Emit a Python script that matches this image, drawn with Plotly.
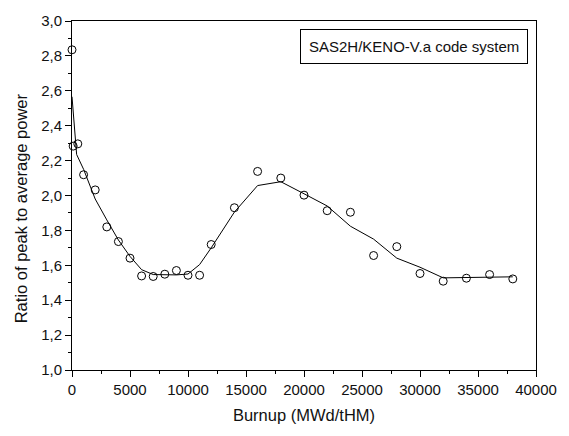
import plotly.graph_objects as go

burnup_pts = [0, 100, 500, 1000, 2000, 3000, 4000, 5000, 6000, 7000, 8000, 9000, 10000, 11000,
              12000, 14000, 16000, 18000, 20000, 22000, 24000, 26000, 28000, 30000, 32000,
              34000, 36000, 38000]
ratio_pts = [2.835, 2.283, 2.296, 2.119, 2.032, 1.82, 1.736, 1.641, 1.539, 1.536, 1.549, 1.570,
             1.543, 1.543, 1.719, 1.930, 2.138, 2.10, 2.002, 1.913, 1.904, 1.656, 1.707, 1.553,
             1.509, 1.526, 1.547, 1.522]

burnup_fit = [0, 400, 1000, 2000, 3000, 4000, 5000, 6000, 7000, 8000, 9000, 10000, 11000, 12000,
              14000, 16000, 18000, 20000, 22000, 24000, 26000, 28000, 30000, 32000, 34000,
              36000, 38000]
ratio_fit = [2.566, 2.235, 2.15, 1.98, 1.86, 1.745, 1.651, 1.575, 1.547, 1.545, 1.545, 1.55,
             1.604, 1.70, 1.905, 2.057, 2.079, 2.01, 1.94, 1.824, 1.75, 1.641, 1.589, 1.528,
             1.529, 1.530, 1.534]

x_ticks = [0, 5000, 10000, 15000, 20000, 25000, 30000, 35000, 40000]
y_ticks = [1.0, 1.2, 1.4, 1.6, 1.8, 2.0, 2.2, 2.4, 2.6, 2.8, 3.0]
y_labels = ["1,0", "1,2", "1,4", "1,6", "1,8", "2,0", "2,2", "2,4", "2,6", "2,8", "3,0"]

font = "Liberation Sans, Arial, sans-serif"

fig = go.Figure()
fig.add_trace(go.Scatter(x=burnup_fit, y=ratio_fit, mode="lines",
                         line=dict(color="black", width=1), showlegend=False))
fig.add_trace(go.Scatter(x=burnup_pts, y=ratio_pts, mode="markers",
                         marker=dict(symbol="circle-open", size=8, color="black",
                                     line=dict(width=1, color="black")),
                         showlegend=False, cliponaxis=False))

fig.update_layout(
    width=569, height=436,
    margin=dict(l=72, r=33, t=16, b=66),
    paper_bgcolor="white", plot_bgcolor="white",
    font=dict(family=font, size=15, color="#111111"),
    annotations=[
        dict(text="SAS2H/KENO-V.a code system", xref="paper", yref="paper",
             x=0.983, y=0.977, xanchor="right", yanchor="top", showarrow=False,
             font=dict(family=font, size=15, color="#111111"),
             bordercolor="black", borderwidth=1, borderpad=8, bgcolor="white"),
        dict(text="Ratio of peak to average power", xref="paper", yref="paper",
             x=-0.108, y=0.463, xanchor="center", yanchor="middle", showarrow=False,
             textangle=-90, font=dict(family=font, size=16.5, color="#111111")),
    ],
)
fig.update_xaxes(
    range=[0, 40000], tickvals=x_ticks, ticktext=[str(v) for v in x_ticks],
    showgrid=False, zeroline=False, showline=True, linecolor="black", linewidth=1,
    mirror=True, ticks="outside", ticklen=6, tickcolor="black",
    minor=dict(tickvals=[2500 + 5000 * i for i in range(8)], ticks="outside", ticklen=3,
               tickcolor="black", showgrid=False),
    title=dict(text="Burnup (MWd/tHM)", font=dict(size=16.5), standoff=12),
)
fig.update_yaxes(
    range=[1.0, 3.0], tickvals=y_ticks, ticktext=y_labels,
    showgrid=False, zeroline=False, showline=True, linecolor="black", linewidth=1,
    mirror=True, ticks="outside", ticklen=6, tickcolor="black",
    minor=dict(tickvals=[1.1 + 0.2 * i for i in range(10)], ticks="outside", ticklen=3,
               tickcolor="black", showgrid=False),
)

fig.write_html("out.html")
